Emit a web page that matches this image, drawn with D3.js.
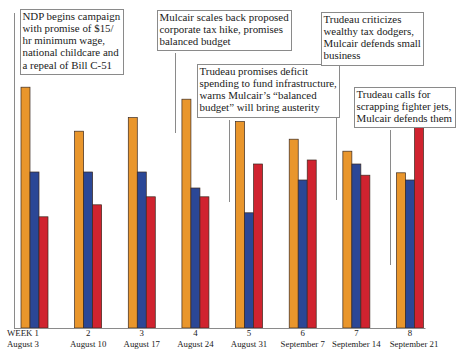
<!DOCTYPE html>
<html>
<head>
<meta charset="utf-8">
<script src="https://cdn.jsdelivr.net/npm/d3@7"></script>
<style>
  html, body { margin: 0; padding: 0; background: #fff; }
  svg { display: block; }
  text { font-family: "Liberation Serif", "DejaVu Serif", serif; fill: #1a1a1a; }
</style>
</head>
<body>
<svg id="chart" width="460" height="355"></svg>
<script>
// ---- data ----
const weeks = ["1", "2", "3", "4", "5", "6", "7", "8"];
const dates = ["August 3", "August 10", "August 17", "August 24", "August 31", "September 7", "September 14", "September 21"];
const parties = ["NDP", "Conservative", "Liberal"];
const ndp          = [30.1, 24.6, 26.3, 28.6, 25.8, 23.6, 22.1, 19.4];
const conservative = [19.5, 19.5, 19.5, 17.5, 14.4, 18.5, 20.5, 18.5];
const liberal      = [13.9, 15.4, 16.4, 16.4, 20.5, 21.0, 19.1, 25.1];
const annotationWeeks = ["1", "4", "5", "7", "8"];
const annotationTexts = [
  ["NDP begins campaign", "with promise of $15/", "hr minimum wage,", "national childcare and", "a repeal of Bill C-51"],
  ["Mulcair scales back proposed", "corporate tax hike, promises", "balanced budget"],
  ["Trudeau promises deficit", "spending to fund infrastructure,", "warns Mulcair\u2019s \u201cbalanced", "budget\u201d will bring austerity"],
  ["Trudeau criticizes", "wealthy tax dodgers,", "Mulcair defends small", "business"],
  ["Trudeau calls for", "scrapping fighter jets,", "Mulcair defends them"]
];

// ---- layout (not data) ----
const colors = { "NDP": "#E9962C", "Conservative": "#2B4796", "Liberal": "#D0232F" };
const boxLayout = [
  { x: 20,  y: 9,  lineEnd: null },
  { x: 157, y: 10, lineEnd: 133 },
  { x: 197, y: 64, lineEnd: 202 },
  { x: 321, y: 12, lineEnd: 200 },
  { x: 354, y: 87, lineEnd: 265 }
];
const baseY = 328;

const series = { "NDP": ndp, "Conservative": conservative, "Liberal": liberal };
const table = weeks.map((w, i) => ({ week: w, date: dates[i], values: parties.map(p => ({ party: p, value: series[p][i] })) }));

const svg = d3.select("#chart");

const x = d3.scalePoint().domain(weeks).range([34.5, 410]);
const groupWidth = 27;
const xSub = d3.scaleBand().domain(parties).range([-groupWidth / 2, groupWidth / 2]);
const y = d3.scaleLinear().domain([0, 40]).range([baseY, 8]);

// bars
const groups = svg.append("g").selectAll("g").data(table).join("g")
  .attr("transform", d => `translate(${x(d.week)},0)`);
groups.selectAll("rect").data(d => d.values).join("rect")
  .attr("x", d => xSub(d.party))
  .attr("width", xSub.bandwidth())
  .attr("y", d => y(d.value))
  .attr("height", d => y(0) - y(d.value))
  .attr("fill", d => colors[d.party])
  .attr("stroke", "#3b2a20")
  .attr("stroke-width", 0.7);

// connector positions
const connX = w => x(w) - groupWidth / 2 - 7;

// baseline
svg.append("line")
  .attr("x1", connX(weeks[0])).attr("x2", x(weeks[weeks.length - 1]) + groupWidth / 2 + 2)
  .attr("y1", baseY + 0.5).attr("y2", baseY + 0.5)
  .attr("stroke", "#8a8a8a").attr("stroke-width", 1);

// axis labels
const labels = svg.append("g").selectAll("g").data(table).join("g");
labels.append("text")
  .attr("x", (d, i) => i === 0 ? x(d.week) - groupWidth / 2 - 14 : x(d.week))
  .attr("y", 336)
  .attr("text-anchor", (d, i) => i === 0 ? "start" : "middle")
  .attr("font-size", 8.8)
  .text((d, i) => i === 0 ? "WEEK " + d.week : d.week);
labels.append("text")
  .attr("x", (d, i) => i === 0 ? x(d.week) - groupWidth / 2 - 14 : x(d.week) + (i === weeks.length - 1 ? 4 : 0))
  .attr("y", 347)
  .attr("text-anchor", (d, i) => i === 0 ? "start" : "middle")
  .attr("font-size", 8.8)
  .text(d => d.date);

// annotations
const fs = 10.9, lh = 12.3, pad = 2;
annotationWeeks.forEach((w, i) => {
  const L = boxLayout[i];
  const lines = annotationTexts[i];
  const g = svg.append("g");
  const rect = g.append("rect");
  const t = g.append("text").attr("font-size", fs);
  lines.forEach((ln, j) => {
    t.append("tspan").attr("x", L.x + pad + 0.5).attr("y", L.y + 10.5 + j * lh).text(ln);
  });
  let maxW = 0;
  t.selectAll("tspan").each(function () { maxW = Math.max(maxW, this.getComputedTextLength()); });
  const bw = Math.round(maxW + pad * 2 + 1);
  const bh = Math.round(lines.length * lh + 3.5);
  rect.attr("x", L.x + 0.5).attr("y", L.y + 0.5).attr("width", bw).attr("height", bh)
    .attr("fill", "#fff").attr("stroke", "#8a8a8a").attr("stroke-width", 1);
  const cx = Math.round(connX(w)) + 0.5;
  svg.insert("line", "g")
    .attr("x1", cx).attr("x2", cx)
    .attr("y1", i === 0 ? L.y + 4 : L.y + bh + 3)
    .attr("y2", L.lineEnd === null ? baseY : L.lineEnd)
    .attr("stroke", "#8a8a8a").attr("stroke-width", 1);
});
</script>
</body>
</html>
